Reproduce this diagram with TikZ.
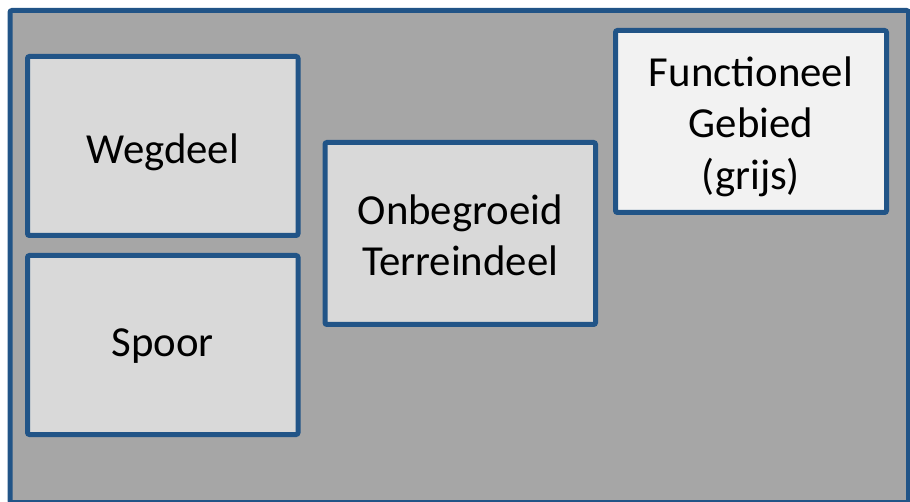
\documentclass[tikz,border=0pt]{standalone}
\usepackage{fontspec}
\setmainfont{Carlito}
\definecolor{frameblue}{RGB}{33,84,135}
\definecolor{areagray}{RGB}{166,166,166}
\definecolor{partgray}{RGB}{217,217,217}
\definecolor{lightpart}{RGB}{242,242,242}
\begin{document}
\begin{tikzpicture}[x=1pt,y=-1pt,
  areabox/.style={draw=frameblue, line width=5pt, rounded corners=2pt},
  partbox/.style={areabox, fill=partgray, inner sep=0pt},
  lightbox/.style={partbox, fill=lightpart},
  boxtext/.style={align=center, inner sep=0pt,
    font=\fontsize{42.8}{51.5}\selectfont}]
\useasboundingbox (0,0) rectangle (910,502);
\begin{scope}
\clip (0,0) rectangle (910,502);
% surrounding grey area
\draw[areabox, fill=areagray] (10,10.5) rectangle (908.5,502.5);
\end{scope}
% parts inside the area, each with its name set in the middle
\node[partbox, minimum width=270.5pt, minimum height=179pt,
  label={[boxtext, yshift=-6pt]center:Wegdeel}] (wegdeel) at (162.75,146) {};
\node[partbox, minimum width=270.5pt, minimum height=179pt,
  label={[boxtext, yshift=-1pt]center:Spoor}] (spoor) at (162.75,345) {};
\node[partbox, minimum width=270.5pt, minimum height=182pt,
  label={[boxtext, yshift=-2pt]center:Onbegroeid\\Terreindeel}] (onbegroeid) at (460.25,233.5) {};
\node[lightbox, minimum width=271pt, minimum height=182pt,
  label={[boxtext, yshift=-5pt]center:Functioneel\\Gebied\\(grijs)}] (functioneel) at (751,121.5) {};
\end{tikzpicture}
\end{document}
